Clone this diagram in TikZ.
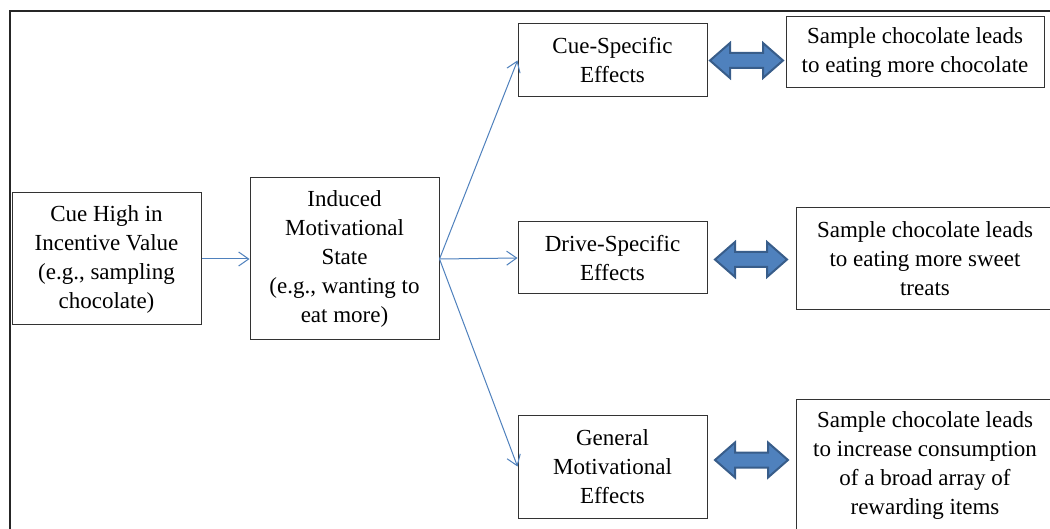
\documentclass[tikz,border=0pt]{standalone}
\usepackage{fontspec}
\setmainfont{Liberation Serif}
\usetikzlibrary{arrows.meta,calc}
\definecolor{linkblue}{HTML}{4F81BD}
\definecolor{arrowedge}{HTML}{385D8A}
\tikzset{
  box/.style={draw=black!80, line width=1pt, align=center, inner sep=0pt,
    font=\fontsize{23}{29}\selectfont},
  link/.style={draw=linkblue, line width=1pt, -{Straight Barb[length=10pt,width=14pt]}},
  blockarrow/.style={fill=linkblue, draw=arrowedge, line width=2pt, line join=miter},
  frame/.style={draw=black!85, line width=1.8pt}
}
\newcommand{\blockarr}[2]{%
  \path[blockarrow] (#1) -- ++(20,-17.5) -- ++(0,10) -- ($(#2)+(-20,-7.5)$) -- ++(0,-10) -- (#2)
    -- ++(-20,17.5) -- ++(0,-10) -- ($(#1)+(20,7.5)$) -- ++(0,10) -- cycle;}
\begin{document}
\begin{tikzpicture}[x=1pt,y=-1pt]
\useasboundingbox (0,0) rectangle (1050,529);
\clip (0,0) rectangle (1050,529);
\fill[white] (0,0) rectangle (1050,529);
\draw[frame] (10,11) rectangle (1080,560);

\node[box, minimum width=189pt, minimum height=132pt] (cue) at (106.5,259)
  {Cue High in\\Incentive Value\\(e.g., sampling\\chocolate)};
\node[box, minimum width=189pt, minimum height=162pt] (state) at (344.5,259)
  {Induced\\Motivational\\State\\(e.g., wanting to\\eat more)};
\node[box, minimum width=189pt, minimum height=73pt] (cs) at (612.5,60.5)
  {Cue-Specific\\Effects};
\node[box, minimum width=189pt, minimum height=72pt] (ds) at (612.5,258)
  {Drive-Specific\\Effects};
\node[box, minimum width=189pt, minimum height=103pt] (gm) at (612.5,466.5)
  {General\\Motivational\\Effects};
\node[box, minimum width=258pt, minimum height=71pt] (s1) at (915,52.5)
  {Sample chocolate leads\\to eating more chocolate};
\node[box, minimum width=258pt, minimum height=102pt] (s2) at (925,259)
  {Sample chocolate leads\\to eating more sweet\\treats};
\node[box, minimum width=258pt, minimum height=134pt] (s3) at (925,466)
  {Sample chocolate leads\\to increase consumption\\of a broad array of\\rewarding items};

\draw[link] (cue.east) -- (state.west);
\draw[link] (state.east) -- (cs.west);
\draw[link] (state.east) -- (ds.west);
\draw[link] (state.east) -- (gm.west);

\coordinate (a1l) at (710,60.5);
\coordinate (a1r) at (783,60.5);
\coordinate (a2l) at (715,259.5);
\coordinate (a2r) at (787,259.5);
\coordinate (a3l) at (715,460);
\coordinate (a3r) at (788,460);
\blockarr{a1l}{a1r}
\blockarr{a2l}{a2r}
\blockarr{a3l}{a3r}
\end{tikzpicture}
\end{document}
